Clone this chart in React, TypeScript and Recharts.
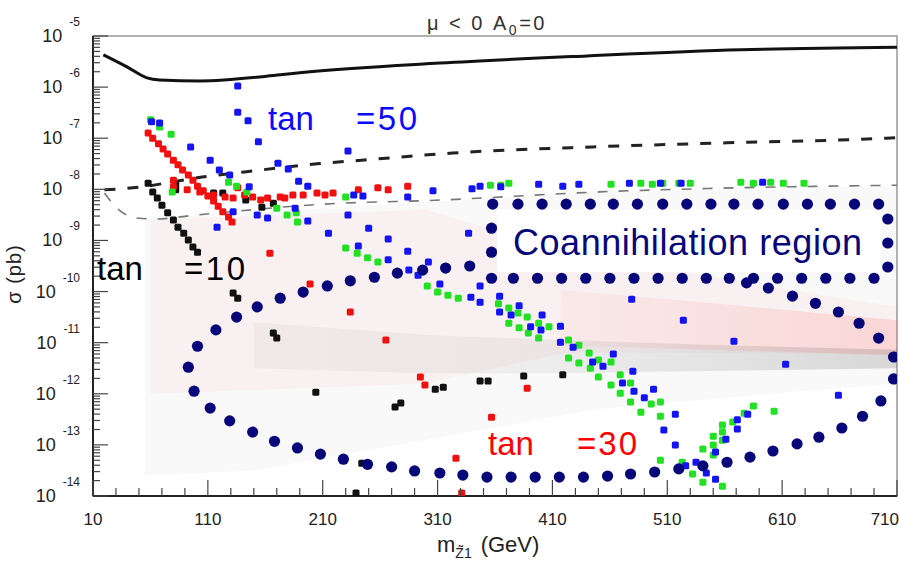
import React from 'react';
import { ComposedChart, XAxis, YAxis, Line, Area, Scatter, ReferenceArea } from 'recharts';

// every point is [neutralino mass (GeV), log10 of sigma (pb)]
const TB10_PTS: [number, number][] = [
  [58, -7.88], [62, -8.05], [82, -7.92], [82, -8.01], [115, -8.07], [123, -8.07], [66, -8.17], [70, -8.31],
  [75, -8.46], [80, -8.6], [84, -8.74], [89, -8.86], [93, -8.99], [97, -9.13], [101, -9.23], [143, -8.21],
  [157, -8.35], [167, -8.27], [132, -10.03], [136, -10.13], [167, -10.81], [170, -10.91], [204, -11.97],
  [273, -12.26], [278, -12.18], [308, -11.91], [315, -11.87], [347, -11.75], [354, -11.75], [385, -11.65],
  [419, -11.63], [244, -13.36], [239, -13.94],
];

const TB30_PTS: [number, number][] = [
  [58, -6.9], [62, -7.0], [67, -7.11], [71, -7.21], [75, -7.31], [80, -7.43], [84, -7.52], [88, -7.62],
  [93, -7.72], [97, -7.82], [101, -7.94], [106, -8.03], [110, -8.13], [115, -8.23], [119, -8.33], [123, -8.44],
  [128, -8.54], [131, -8.64],
  [80, -7.82], [80, -7.95], [92, -8.01], [103, -8.05], [115, -8.11], [125, -8.15], [132, -8.17], [136, -7.97],
  [142, -8.11], [149, -8.15], [156, -8.21], [162, -8.17], [173, -8.15], [177, -8.17], [184, -8.11], [193, -8.11],
  [205, -8.07], [212, -8.11], [219, -8.07], [241, -8.01], [258, -7.97], [267, -8.01], [284, -7.94],
  [164, -9.25], [199, -9.85], [234, -10.4], [265, -10.95], [295, -11.67], [299, -11.83], [388, -11.89],
  [357, -12.46], [326, -13.26], [331, -13.94],
];

const GREEN_PTS: [number, number][] = [
  [60, -6.64], [68, -6.78], [78, -6.92], [79, -8.05], [128, -7.86], [135, -7.94], [144, -8.05], [170, -8.37],
  [179, -8.5], [187, -8.46], [188, -8.64], [230, -8.15], [230, -9.15], [240, -9.25], [249, -9.34], [258, -9.42],
  [301, -9.89], [310, -10.01], [319, -10.07], [328, -10.13], [356, -7.92], [365, -7.92], [372, -7.88],
  [363, -10.24], [372, -10.32], [380, -10.42], [388, -10.5], [372, -10.62], [381, -10.71], [398, -10.62],
  [407, -10.69], [389, -10.81], [398, -10.91], [424, -10.95], [433, -11.05], [424, -11.3], [442, -11.2],
  [433, -11.4], [450, -11.34], [443, -11.5], [450, -11.67], [461, -11.38], [461, -11.83], [469, -11.63],
  [469, -11.99], [478, -11.79], [478, -12.16], [487, -12.36], [496, -12.2], [504, -12.16], [504, -12.44],
  [504, -13.3], [523, -13.34], [532, -13.57], [541, -13.73], [541, -13.08], [550, -13.2], [550, -13.0],
  [550, -12.83], [558, -12.75], [558, -12.61], [558, -12.91], [567, -12.55], [577, -12.38], [585, -12.24],
  [603, -12.34], [558, -13.81], [461, -7.9], [487, -7.88], [497, -7.9], [506, -7.88], [520, -7.88],
  [530, -7.88], [574, -7.86], [585, -7.88], [600, -7.86], [611, -7.88], [629, -7.88],
];

const TB50_PTS: [number, number][] = [
  [136, -5.98], [136, -6.49], [145, -6.66], [154, -7.07], [61, -6.68], [68, -6.7], [95, -7.17], [112, -7.43],
  [120, -7.62], [129, -7.72], [171, -7.49], [180, -7.6], [189, -7.84], [146, -7.95], [132, -8.44], [118, -8.74],
  [153, -8.5], [162, -8.56], [186, -8.37], [232, -7.25], [197, -7.94], [237, -8.11], [245, -8.13], [284, -8.15],
  [306, -8.03], [340, -7.99], [347, -7.94], [365, -7.95], [398, -7.9], [419, -7.94], [433, -7.9], [477, -7.88],
  [504, -7.88], [522, -7.88], [593, -7.86], [197, -8.62], [215, -8.86], [232, -8.5], [250, -8.76], [241, -9.11],
  [267, -8.97], [267, -9.38], [284, -9.21], [285, -9.58], [293, -9.68], [302, -9.42], [337, -8.86], [312, -9.85],
  [339, -10.11], [347, -9.89], [347, -10.21], [364, -10.09], [364, -10.4], [381, -10.28], [374, -10.46],
  [401, -10.46], [391, -10.69], [400, -10.75], [417, -10.68], [417, -10.99], [428, -11.09], [445, -11.38],
  [479, -10.15], [524, -10.56], [568, -10.97], [613, -11.42], [463, -11.22], [454, -11.46], [480, -11.56],
  [471, -11.79], [481, -11.95], [490, -12.08], [498, -11.91], [517, -12.4], [507, -12.71], [517, -13.0],
  [659, -12.03], [535, -13.34], [544, -13.55], [552, -13.67], [552, -13.14], [561, -12.89], [571, -12.69],
  [571, -12.51], [580, -12.4], [526, -13.41],
];

const LIMIT_SOLID: [number, number][] = [
  [19, -5.37], [40, -5.61], [57, -5.82], [68, -5.86], [103, -5.88], [173, -5.76], [190, -5.72],
  [312, -5.53], [440, -5.39], [574, -5.27], [710, -5.22],
];
const LIMIT_DASHED: [number, number][] = [
  [20, -8.01], [45, -7.97], [105, -7.76], [142, -7.66], [205, -7.5], [244, -7.43], [323, -7.29],
  [445, -7.17], [562, -7.09], [701, -7.0], [710, -6.99],
];
const LIMIT_THIN: [number, number][] = [
  [20, -8.07], [31, -8.37], [48, -8.56], [64, -8.58], [101, -8.5], [211, -8.29], [312, -8.21],
  [451, -8.05], [571, -7.97], [710, -7.92],
];

// scanned parameter space: [mass, log10 low, log10 high]
const SCAN_GRAY: [number, number, number][] = [
  [55, -13.6, -8.55], [150, -13.5, -8.45], [300, -12.9, -8.25], [450, -12.3, -8.05], [600, -12.0, -7.98], [710, -11.8, -7.93],
];
const SCAN_PINK: [number, number, number][] = [
  [60, -12.0, -8.6], [300, -11.8, -8.4], [420, -11.2, -9.2], [600, -11.2, -9.9], [710, -11.25, -10.3],
];
const SCAN_PINK_BAND: [number, number, number][] = [
  [417, -11.05, -9.97], [560, -11.15, -10.25], [710, -11.24, -10.56],
];
const SCAN_DARK_BAND: [number, number, number][] = [
  [150, -11.5, -10.6], [300, -11.6, -10.85], [417, -11.6, -10.95], [560, -11.55, -11.05], [710, -11.5, -11.14],
];

const COANN_BOX: [number, number][] = [
  [358, -8.29], [380, -8.29], [401, -8.29], [422, -8.29], [443, -8.29], [463, -8.29], [484, -8.29], [506, -8.29],
  [527, -8.29], [548, -8.29], [568, -8.29], [589, -8.29], [611, -8.29], [632, -8.29], [652, -8.29], [673, -8.29],
  [694, -8.29], [702, -8.58], [702, -9.05], [702, -9.52], [357, -8.76], [357, -9.23],
  [357, -9.74], [376, -9.74], [397, -9.74], [418, -9.74], [439, -9.74], [460, -9.74], [481, -9.74], [502, -9.74],
  [523, -9.74], [544, -9.74], [564, -9.74], [585, -9.74], [606, -9.74], [627, -9.74], [648, -9.74], [669, -9.74],
  [690, -9.74],
];
const FUNNEL_DOTS: [number, number][] = [
  [93, -11.48], [101, -11.07], [117, -10.75], [135, -10.5], [153, -10.3], [173, -10.13], [193, -10.01], [214, -9.89],
  [234, -9.79], [255, -9.72], [275, -9.64], [297, -9.58], [317, -9.54], [338, -9.5],
  [579, -9.83], [598, -9.93], [619, -10.09], [639, -10.23], [659, -10.4], [677, -10.62], [694, -10.91], [707, -11.28],
  [707, -11.71], [696, -12.14], [680, -12.44], [662, -12.67], [642, -12.85], [623, -12.98], [602, -13.12], [582, -13.24],
  [562, -13.34], [541, -13.41], [520, -13.47], [499, -13.53], [478, -13.57], [458, -13.61], [437, -13.63], [416, -13.63],
  [395, -13.63], [374, -13.63], [353, -13.63], [332, -13.59], [312, -13.55], [290, -13.51], [270, -13.43], [249, -13.38],
  [228, -13.28], [208, -13.18], [188, -13.06], [168, -12.93], [149, -12.75], [129, -12.53], [112, -12.28], [98, -11.95],
];

const X_TICKS = [
  10, 30, 50, 70, 90, 110, 130, 150, 170, 190, 210, 230, 250, 270, 290, 310, 330, 350, 370, 390, 410, 430, 450,
  470, 490, 510, 530, 550, 570, 590, 610, 630, 650, 670, 690, 710,
];
const X_MAJOR = [10, 110, 210, 310, 410, 510, 610, 710];
const Y_DECADES = [-14, -13, -12, -11, -10, -9, -8, -7, -6, -5];
const Y_MINOR = [2, 3, 4, 5, 6, 7, 8, 9];

const Y_TICKS = Y_DECADES.flatMap((e) => (e === -5 ? [10 ** e] : [10 ** e, ...Y_MINOR.map((m) => m * 10 ** e)]));

const FONT = '"Liberation Sans", Arial, Helvetica, sans-serif';
const NAVY = '#07077a';

const pts = (arr: [number, number][]) => arr.map(([x, e]) => ({ x, y: 10 ** e }));
const band = (arr: [number, number, number][]) => arr.map(([x, lo, hi]) => ({ x, r: [10 ** lo, 10 ** hi] }));

const square = (fill: string) => (p: any) => (
  <rect x={p.cx - 3.5} y={p.cy - 3.5} width={7} height={7} rx={1.5} fill={fill} />
);
const bigDot = (p: any) => <circle cx={p.cx} cy={p.cy} r={5.6} fill={NAVY} />;

function YTick(props: any) {
  const { x, y, payload } = props;
  const lg = Math.log10(payload.value);
  const major = Math.abs(lg - Math.round(lg)) < 1e-6;
  return (
    <g>
      <line x1={x} x2={x + (major ? 15 : 7)} y1={y} y2={y} stroke="#444" strokeWidth={1.2} />
      {major && (
        <text x={x - 13} y={y + 6} textAnchor="end" fontSize={18} fill="#222" fontFamily={FONT}>
          10
          <tspan dx={7} dy={-16} fontSize={12}>
            {Math.round(lg)}
          </tspan>
        </text>
      )}
    </g>
  );
}

function XTick(props: any) {
  const { x, y, payload } = props;
  const major = X_MAJOR.includes(payload.value);
  const last = payload.value === X_TICKS[X_TICKS.length - 1];
  return (
    <g>
      <line x1={x} x2={x} y1={y} y2={y - (major ? 16 : 8)} stroke="#444" strokeWidth={1.2} />
      {major && (
        <text x={last ? x + 2 : x} y={y + 29} textAnchor={last ? 'end' : 'middle'} fontSize={17} fill="#222" fontFamily={FONT}>
          {payload.value}
        </text>
      )}
    </g>
  );
}

export default function App() {
  return (
    <div style={{ position: 'absolute', left: 0, top: 0, width: 899, height: 564, background: '#fff' }}>
      <ComposedChart width={899} height={564} margin={{ top: 36, right: 2, bottom: 0, left: 0 }}>
        <defs>
          <linearGradient id="darkFade" x1="0" y1="0" x2="1" y2="0">
            <stop offset="0%" stopColor="#505050" stopOpacity={0.08} />
            <stop offset="45%" stopColor="#505050" stopOpacity={0.12} />
            <stop offset="100%" stopColor="#404040" stopOpacity={0.3} />
          </linearGradient>
          <linearGradient id="pinkFade" x1="0" y1="0" x2="1" y2="0">
            <stop offset="0%" stopColor="#ff6a6a" stopOpacity={0.1} />
            <stop offset="100%" stopColor="#ff5a5a" stopOpacity={0.3} />
          </linearGradient>
        </defs>
        <XAxis
          type="number"
          dataKey="x"
          domain={[10, 710]}
          allowDataOverflow
          ticks={X_TICKS}
          interval={0}
          tick={<XTick />}
          tickLine={false}
          tickSize={0}
          tickMargin={0}
          height={68}
          axisLine={{ stroke: '#222', strokeWidth: 2 }}
        />
        <YAxis
          type="number"
          dataKey="y"
          scale="log"
          domain={[1e-14, 1e-5]}
          allowDataOverflow
          ticks={Y_TICKS}
          interval={0}
          tick={<YTick />}
          tickLine={false}
          tickSize={0}
          tickMargin={0}
          width={93}
          axisLine={{ stroke: '#222', strokeWidth: 2 }}
        />
        <ReferenceArea x1={10} x2={710} y1={1e-14} y2={1e-5} fill="none" stroke="#999" strokeWidth={1.5} />
        <Area data={band(SCAN_GRAY)} dataKey="r" type="linear" stroke="none" fill="#8a8a8a" fillOpacity={0.05} isAnimationActive={false} />
        <Area data={band(SCAN_PINK)} dataKey="r" type="linear" stroke="none" fill="#ff7070" fillOpacity={0.06} isAnimationActive={false} />
        <Area data={band(SCAN_PINK_BAND)} dataKey="r" type="linear" stroke="none" fill="url(#pinkFade)" isAnimationActive={false} />
        <Area data={band(SCAN_DARK_BAND)} dataKey="r" type="linear" stroke="none" fill="url(#darkFade)" isAnimationActive={false} />
        <Line data={pts(LIMIT_SOLID)} dataKey="y" type="monotone" stroke="#111" strokeWidth={3} dot={false} activeDot={false} isAnimationActive={false} />
        <Line data={pts(LIMIT_DASHED)} dataKey="y" type="monotone" stroke="#222" strokeWidth={3} strokeDasharray="11 12" dot={false} activeDot={false} isAnimationActive={false} />
        <Line data={pts(LIMIT_THIN)} dataKey="y" type="monotone" stroke="#777" strokeWidth={1.6} strokeDasharray="10 11" dot={false} activeDot={false} isAnimationActive={false} />
        <Scatter data={pts(TB10_PTS)} shape={square('#111')} isAnimationActive={false} />
        <Scatter data={pts(TB30_PTS)} shape={square('#f01010')} isAnimationActive={false} />
        <Scatter data={pts(GREEN_PTS)} shape={square('#22e022')} isAnimationActive={false} />
        <Scatter data={pts(TB50_PTS)} shape={square('#1414f2')} isAnimationActive={false} />
        <Scatter data={pts(COANN_BOX)} shape={bigDot} isAnimationActive={false} />
        <Scatter data={pts(FUNNEL_DOTS)} shape={bigDot} isAnimationActive={false} />
      </ComposedChart>
      <svg width={899} height={564} style={{ position: 'absolute', left: 0, top: 0, pointerEvents: 'none' }}>
        <rect x={497} y={210} width={384} height={62} fill="#fff" />
        <text x={427} y={30} fontSize={20} letterSpacing={2.5} fill="#333" fontFamily={FONT}>
          μ &lt; 0  A<tspan fontSize={14} dy={5}>0</tspan><tspan dy={-5}>=0</tspan>
        </text>
        <text x={0} y={0} transform="translate(21,274) rotate(-90)" textAnchor="middle" fontSize={20} letterSpacing={1} fill="#222" fontFamily={FONT}>
          σ (pb)
        </text>
        <text x={437} y={552} fontSize={22} fill="#222" fontFamily={FONT}>
          m<tspan fontSize={14} dy={6}>Z̃1</tspan>
          <tspan dx={9} dy={-6}>(GeV)</tspan>
        </text>
        <text x={268} y={130} fontSize={33} fill="#0a0aff" fontFamily={FONT}>tan</text>
        <text x={356} y={130} fontSize={33} textLength={61} fill="#0a0aff" fontFamily={FONT}>=50</text>
        <text x={97} y={280} fontSize={33} fill="#000" fontFamily={FONT}>tan</text>
        <text x={184} y={280} fontSize={33} textLength={61} fill="#000" fontFamily={FONT}>=10</text>
        <text x={488} y={455} fontSize={33} fill="#ff0000" fontFamily={FONT}>tan</text>
        <text x={577} y={455} fontSize={33} textLength={60} fill="#ff0000" fontFamily={FONT}>=30</text>
        <text x={513} y={255} fontSize={36} textLength={349} fill={NAVY} fontFamily={FONT}>Coannihilation region</text>
      </svg>
    </div>
  );
}
